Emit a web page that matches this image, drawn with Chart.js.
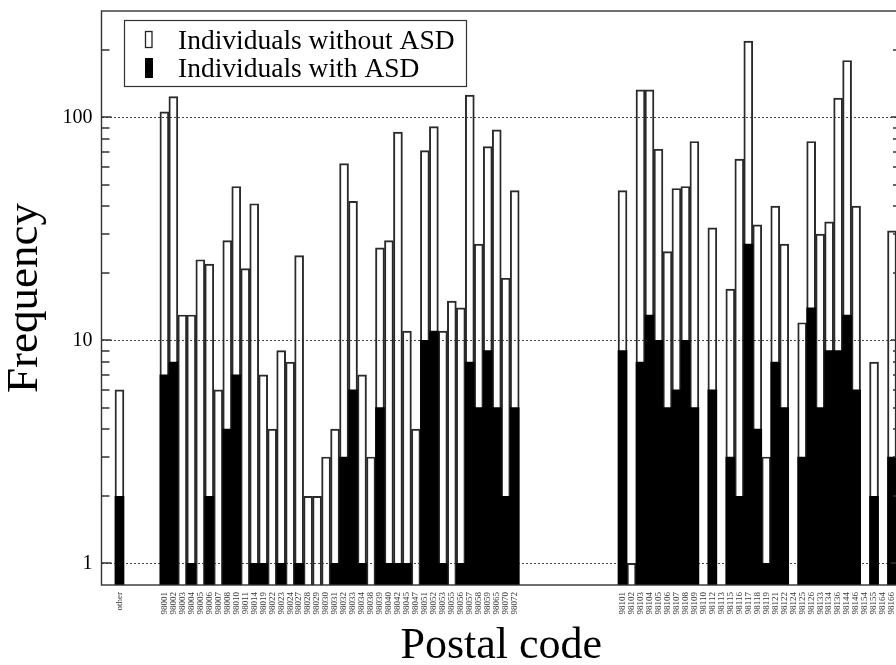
<!DOCTYPE html>
<html><head><meta charset="utf-8">
<script src="https://cdn.jsdelivr.net/npm/chart.js@4/dist/chart.umd.min.js"></script>
<style>
html,body{margin:0;padding:0;overflow:hidden;background:#fff;width:896px;height:665px}
#wrap{position:absolute;left:0;top:0;width:906px;height:665px}
</style></head><body>
<div id="wrap"><canvas id="c"></canvas></div>
<script>
// Categories along the axis ('' = empty slot / gap in the original axis)
const categories = ['', '', 'other', '', '', '', '',
  '98001','98002','98003','98004','98005','98006','98007','98008','98010','98011',
  '98014','98019','98022','98023','98024','98027','98028','98029','98030','98031',
  '98032','98033','98034','98038','98039','98040','98042','98045','98047','98051',
  '98052','98053','98055','98056','98057','98058','98059','98065','98070','98072',
  '', '', '', '', '', '', '', '', '', '', '',
  '98101','98102','98103','98104','98105','98106','98107','98108','98109','98110',
  '98112','98113','98115','98116','98117','98118','98119','98121','98122','98124',
  '98125','98126','98133','98134','98136','98144','98146','98154','98155','98164',
  '98166',
  ''];

// Individuals without ASD (white bars)
const withoutASD = [null, null, 6, null, null, null, null,
  106, 124, 13, 13, 23, 22, 6, 28, 49, 21,
  41, 7, 4, 9, 8, 24, 2, 2, 3, 4,
  62, 42, 7, 3, 26, 28, 86, 11, 4, 71,
  91, 11, 15, 14, 126, 27, 74, 88, 19, 47,
  null, null, null, null, null, null, null, null, null, null, null,
  47, 1, 133, 133, 72, 25, 48, 49, 78, null,
  32, null, 17, 65, 220, 33, 3, 40, 27, null,
  12, 78, 30, 34, 122, 180, 40, null, 8, null,
  31,
  null];

// Individuals with ASD (black bars)
const withASD = [null, null, 2, null, null, null, null,
  7, 8, null, 1, null, 2, null, 4, 7, null,
  1, 1, null, 1, null, 1, null, null, null, 1,
  3, 6, 1, null, 5, 1, 1, 1, null, 10,
  11, 1, null, 1, 8, 5, 9, 5, 2, 5,
  null, null, null, null, null, null, null, null, null, null, null,
  9, null, 8, 13, 10, 5, 6, 10, 5, null,
  6, null, 3, 2, 27, 4, 1, 8, 5, null,
  3, 14, 5, 9, 9, 13, 6, null, 2, null,
  3,
  null];

// y-axis ticks
const yTickLabels = [1, 10, 100];
const yTickValues = [1, 2, 3, 4, 5, 6, 7, 8, 9, 10, 20, 30, 40, 50, 60, 70, 80, 90, 100, 200];

const seriesNames = ['Individuals without ASD', 'Individuals with ASD'];

const SERIF = '"Liberation Serif", "Times New Roman", serif';

const framePlugin = {
  id: 'frame',
  afterDatasetsDraw(chart) {
    const {ctx, chartArea: a, scales: {y}} = chart;
    ctx.save();
    ctx.strokeStyle = '#333';
    ctx.lineWidth = 1.4;
    ctx.strokeRect(a.left, a.top, a.right - a.left, a.bottom - a.top);
    ctx.lineWidth = 1.5;
    ctx.strokeStyle = '#333';
    y.ticks.forEach(t => {
      const py = Math.round(y.getPixelForValue(t.value));
      const len = yTickLabels.includes(t.value) ? 10 : 8;
      ctx.beginPath();
      ctx.moveTo(a.left, py); ctx.lineTo(a.left + len, py);
      ctx.moveTo(a.right, py); ctx.lineTo(a.right - len, py);
      ctx.stroke();
    });
    ctx.restore();
  }
};

const legendPlugin = {
  id: 'boxLegend',
  afterDraw(chart) {
    const {ctx} = chart;
    const ds = chart.data.datasets;
    ctx.save();
    ctx.fillStyle = '#fff';
    ctx.fillRect(124, 20, 343, 66);
    ctx.strokeStyle = '#333';
    ctx.lineWidth = 1.2;
    ctx.strokeRect(124.5, 20.5, 342, 66);
    ctx.font = '27.5px ' + SERIF;
    ctx.textBaseline = 'alphabetic';
    ctx.textAlign = 'left';
    ctx.strokeStyle = '#222';
    ctx.lineWidth = 1.3;
    ctx.strokeRect(145.5, 31.5, 6.5, 16);
    ctx.fillStyle = '#000';
    ctx.fillText(ds[0].label, 178, 49.3);
    ctx.fillRect(145, 58, 8, 20);
    ctx.fillText(ds[1].label, 178, 76.7);
    ctx.restore();
  }
};

new Chart(document.getElementById('c'), {
  type: 'bar',
  data: {
    labels: categories,
    datasets: [
      {
        label: seriesNames[0],
        data: withoutASD,
        backgroundColor: 'rgba(255,255,255,0)',
        borderColor: '#2a2a2a',
        borderWidth: 1.3,
        borderSkipped: 'start',
        order: 2
      },
      {
        label: seriesNames[1],
        data: withASD,
        backgroundColor: '#000',
        borderColor: '#000',
        borderWidth: 0,
        order: 1
      }
    ]
  },
  options: {
    responsive: true,
    maintainAspectRatio: false,
    animation: false,
    devicePixelRatio: 1,
    layout: {padding: {top: 11, right: 5, left: 0, bottom: 0}},
    datasets: {bar: {grouped: false, categoryPercentage: 1, barPercentage: 1}},
    plugins: {legend: {display: false}, tooltip: {enabled: false}},
    scales: {
      x: {
        type: 'category',
        offset: false,
        grid: {display: false, drawTicks: false},
        border: {display: false},
        ticks: {
          autoSkip: false, minRotation: 90, maxRotation: 90, padding: 7,
          font: {family: SERIF, size: 9}, color: '#333'
        },
        title: {
          display: true, text: 'Postal code', color: '#000',
          font: {family: SERIF, size: 44, lineHeight: 0.8},
          padding: {top: 0, bottom: 1}
        },
        afterFit: s => { s.height = 80; s.paddingLeft = 0; s.paddingRight = 0; }
      },
      y: {
        type: 'logarithmic',
        min: 0.8,
        max: 300,
        afterBuildTicks: s => { s.ticks = yTickValues.map(v => ({value: v})); },
        afterFit: s => { s.width = 101.5; s.paddingTop = 0; s.paddingBottom = 0; },
        grid: {
          drawTicks: false,
          lineWidth: 1,
          color: c => (c.tick && yTickLabels.includes(c.tick.value)) ? '#444' : 'rgba(0,0,0,0)'
        },
        border: {display: false, dash: [2, 2]},
        ticks: {
          autoSkip: false, padding: 9, color: '#000',
          font: {family: SERIF, size: 20},
          callback: v => yTickLabels.includes(v) ? String(v) : ''
        },
        title: {
          display: true, text: 'Frequency', color: '#000',
          font: {family: SERIF, size: 45, lineHeight: 1.1},
          padding: 0
        }
      }
    }
  },
  plugins: [framePlugin, legendPlugin]
});
</script>
</body></html>
